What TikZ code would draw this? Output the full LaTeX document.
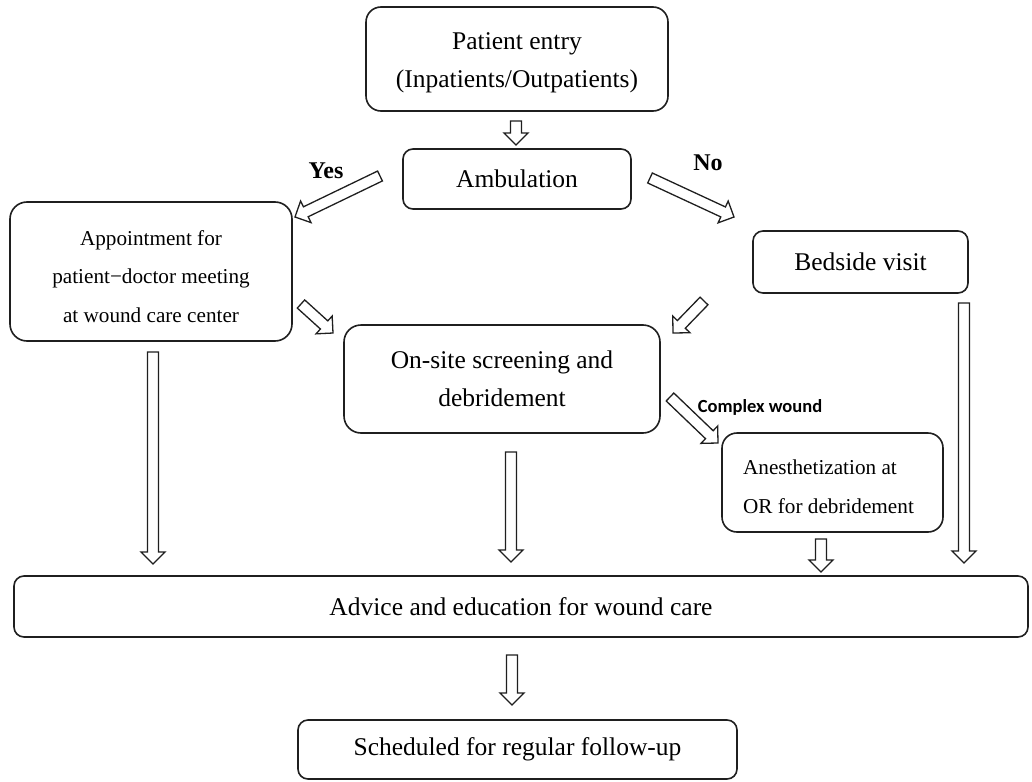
\documentclass[tikz,border=0pt]{standalone}
\usepackage{fontspec}
\setmainfont{Liberation Serif}
\newfontfamily\labelsans{Carlito}
\usetikzlibrary{calc}

\tikzset{
  box/.style={draw=black!88, line width=1.6pt, rounded corners=#1, align=center, inner sep=0pt},
  box/.default=12pt,
  blockarr/.style={draw=black!88, line width=1.3pt, fill=white, line join=miter},
  maintext/.style={font=\fontsize{25.5pt}{38pt}\selectfont, inner sep=0pt},
  smalltext/.style={font=\fontsize{21.2pt}{38.5pt}\selectfont, inner sep=0pt},
  choice/.style={font=\fontsize{24pt}{28pt}\selectfont\bfseries, inner sep=0pt},
}

% hollow block arrow from #1 (tail centre) to #2 (tip)
\newcommand\blockarrow[2]{%
  \coordinate (ba-m) at ($(#2)!12pt!(#1)$);
  \draw[blockarr]
    ($(#1)!5.5pt!90:(#2)$) -- ($(ba-m)!5.5pt!90:(#2)$) -- ($(ba-m)!12pt!90:(#2)$)
    -- (#2)
    -- ($(ba-m)!12pt!-90:(#2)$) -- ($(ba-m)!5.5pt!-90:(#2)$) -- ($(#1)!5.5pt!-90:(#2)$)
    -- cycle;
}

\begin{document}
\begin{tikzpicture}[x=1pt, y=-1pt]
  \useasboundingbox (0,0) rectangle (1032,781);

  % boxes
  \node[box=15pt, minimum width=302pt, minimum height=104pt] (entry) at (517,59) {};
  \node[maintext, align=center] (entry-text) at ([yshift=-4pt]entry.center)
    {Patient entry\\(Inpatients/Outpatients)};
  \node[box=10pt, maintext, minimum width=228pt, minimum height=60pt] (amb) at (517,179)
    {\raisebox{-2pt}{Ambulation}};
  \node[box=17pt, minimum width=282pt, minimum height=139pt] (appt) at (151,271.5) {};
  \node[smalltext, align=center] (appt-text) at ([yshift=-5pt]appt.center)
    {Appointment for\\patient\textminus doctor meeting\\at wound care center};
  \node[box=10pt, maintext, minimum width=215pt, minimum height=62pt] (bed) at (860.5,262) {Bedside visit};
  \node[box=17pt, maintext, minimum width=316pt, minimum height=108pt] (onsite) at (502,379)
    {On-site screening and\\debridement};
  \node[box=15pt, minimum width=221pt, minimum height=99pt] (anes) at (832.5,482.5) {};
  \node[smalltext, align=left] (anes-text) at ([xshift=-4pt, yshift=-4pt]anes.center)
    {Anesthetization at\\OR for debridement};
  \node[box=10pt, maintext, minimum width=1014pt, minimum height=61pt] (advice) at (521,606.5)
    {\raisebox{-2pt}{Advice and education for wound care}};
  \node[box=10pt, maintext, minimum width=439pt, minimum height=59pt] (sched) at (517.5,749.5)
    {Scheduled for regular follow-up};

  % branch labels
  \node[choice] (yes) at (326,171) {Yes};
  \node[choice] (no) at (708,163) {No};
  \node[font=\labelsans\bfseries\fontsize{18.5pt}{22pt}\selectfont, inner sep=0pt] (cw) at (760,407) {Complex wound};

  % arrow end points
  \coordinate (e1s) at (516,121);  \coordinate (e1t) at (516,145);
  \coordinate (ys)  at (380,176);  \coordinate (yt)  at (295,217);
  \coordinate (ns)  at (650,178);  \coordinate (nt)  at (734,217);
  \coordinate (as)  at (301,304);  \coordinate (at2) at (333,333);
  \coordinate (bs)  at (704,301);  \coordinate (bt)  at (673,333);
  \coordinate (cs)  at (670,397);  \coordinate (ct)  at (718,443);
  \coordinate (d1s) at (153,352);  \coordinate (d1t) at (153,564);
  \coordinate (d2s) at (511,452);  \coordinate (d2t) at (511,562);
  \coordinate (d3s) at (821,539);  \coordinate (d3t) at (821,572);
  \coordinate (d4s) at (964,303);  \coordinate (d4t) at (964,563);
  \coordinate (fs)  at (512,655);  \coordinate (ft)  at (512,705);

  % block arrows
  \blockarrow{e1s}{e1t}
  \blockarrow{ys}{yt}
  \blockarrow{ns}{nt}
  \blockarrow{as}{at2}
  \blockarrow{bs}{bt}
  \blockarrow{cs}{ct}
  \blockarrow{d1s}{d1t}
  \blockarrow{d2s}{d2t}
  \blockarrow{d3s}{d3t}
  \blockarrow{d4s}{d4t}
  \blockarrow{fs}{ft}
\end{tikzpicture}
\end{document}
